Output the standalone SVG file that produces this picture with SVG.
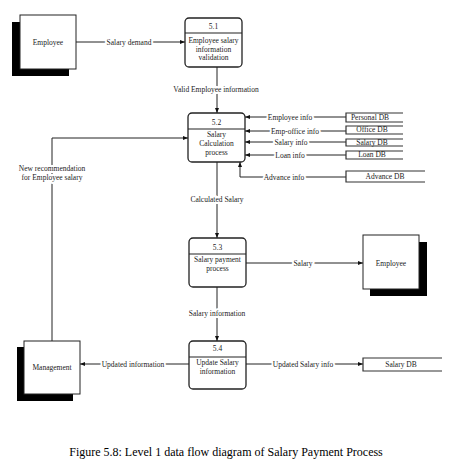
<svg xmlns="http://www.w3.org/2000/svg" width="455" height="472" viewBox="0 0 455 472">
<style>
text{font-family:"Liberation Serif","Times New Roman",serif;font-size:7.5px;fill:#222;text-anchor:middle}
.lbl{paint-order:stroke;stroke:#fff;stroke-width:4px}
.db{font-size:7.5px}
.proc{fill:#fff;stroke:#222;stroke-width:1.3}
.div{stroke:#222;stroke-width:1.1}
.ent{fill:#fff;stroke:#222;stroke-width:1}
.sh{fill:#000}
.ln{fill:none;stroke:#222;stroke-width:1}
.st{fill:none;stroke:#333;stroke-width:1.2}
.cap{font-size:12px;fill:#000}
</style>
<defs>
<marker id="ah" viewBox="0 0 10 10" refX="10" refY="5" markerWidth="5" markerHeight="5" orient="auto" markerUnits="userSpaceOnUse">
<path d="M0,1 L10,5 L0,9 Z" fill="#111"/>
</marker>
</defs>
<rect width="455" height="472" fill="#fff"/>

<g id="connectors">
<line class="ln" x1="76" y1="42" x2="185" y2="42" marker-end="url(#ah)"/>
<line class="ln" x1="217" y1="67" x2="217" y2="113" marker-end="url(#ah)"/>
<line class="ln" x1="346" y1="117" x2="245" y2="117" marker-end="url(#ah)"/>
<line class="ln" x1="346" y1="131" x2="245" y2="131" marker-end="url(#ah)"/>
<line class="ln" x1="346" y1="142" x2="245" y2="142" marker-end="url(#ah)"/>
<line class="ln" x1="346" y1="155" x2="245" y2="155" marker-end="url(#ah)"/>
<polyline class="ln" points="346,177 240,177 240,162" marker-end="url(#ah)"/>
<polyline class="ln" points="52,341 52,138 188,138" marker-end="url(#ah)"/>
<line class="ln" x1="217" y1="162" x2="217" y2="238" marker-end="url(#ah)"/>
<line class="ln" x1="246" y1="263" x2="363" y2="263" marker-end="url(#ah)"/>
<line class="ln" x1="217" y1="287" x2="217" y2="341" marker-end="url(#ah)"/>
<line class="ln" x1="189" y1="364" x2="80" y2="364" marker-end="url(#ah)"/>
<line class="ln" x1="246" y1="364" x2="363" y2="364" marker-end="url(#ah)"/>
<text class="lbl" x="129" y="44.5">Salary demand</text>
<text class="lbl" x="216" y="91.5">Valid Employee information</text>
<text class="lbl" x="290" y="119.5">Employee info</text>
<text class="lbl" x="295" y="133.5">Emp-office info</text>
<text class="lbl" x="291" y="144.5">Salary info</text>
<text class="lbl" x="290" y="157.5">Loan info</text>
<text class="lbl" x="284" y="179.5">Advance info</text>
<text class="lbl" x="52" y="171">New recommendation</text>
<text class="lbl" x="52" y="180">for Employee salary</text>
<text class="lbl" x="217" y="201.5">Calculated Salary</text>
<text class="lbl" x="303" y="265.5">Salary</text>
<text class="lbl" x="217" y="315.5">Salary information</text>
<text class="lbl" x="133" y="366.5">Updated information</text>
<text class="lbl" x="303" y="366.5">Updated Salary info</text>
</g>

<g id="employee-src">
<rect class="sh" x="12" y="22" width="57" height="54"/>
<rect class="ent" x="20" y="15" width="56" height="54"/>
<text x="48" y="44.5">Employee</text>
</g>

<g id="p51">
<rect class="proc" x="185" y="18" width="57" height="49" rx="4"/>
<line class="div" x1="185" y1="33" x2="242" y2="33"/>
<text x="213.5" y="29">5.1</text>
<text x="213.5" y="43">Employee salary</text>
<text x="213.5" y="51.5">information</text>
<text x="213.5" y="60">validation</text>
</g>

<g id="p52">
<rect class="proc" x="188" y="113" width="57" height="49" rx="4"/>
<line class="div" x1="188" y1="129" x2="245" y2="129"/>
<text x="216.5" y="124.5">5.2</text>
<text x="216.5" y="136.5">Salary</text>
<text x="216.5" y="145.5">Calculation</text>
<text x="216.5" y="154.5">process</text>
</g>

<g id="personal-db">
<polyline class="st" points="403,113 346,113 346,122 403,122"/>
<text class="db" x="370" y="119.5">Personal DB</text>
</g>
<g id="office-db">
<polyline class="st" points="403,126 346,126 346,134 403,134"/>
<text class="db" x="372" y="132">Office DB</text>
</g>
<g id="salary-db1">
<polyline class="st" points="403,139 346,139 346,146 403,146"/>
<text class="db" x="372" y="144.5">Salary DB</text>
</g>
<g id="loan-db">
<polyline class="st" points="403,151 346,151 346,159 403,159"/>
<text class="db" x="372" y="157">Loan DB</text>
</g>
<g id="advance-db">
<polyline class="st" points="425,171 346,171 346,182 425,182"/>
<text class="db" x="385" y="179">Advance DB</text>
</g>

<g id="p53">
<rect class="proc" x="189" y="238" width="57" height="49" rx="4"/>
<line class="div" x1="189" y1="254" x2="246" y2="254"/>
<text x="217.5" y="249.5">5.3</text>
<text x="217.5" y="261.5">Salary payment</text>
<text x="217.5" y="270.5">process</text>
</g>

<g id="employee-dst">
<rect class="sh" x="370" y="242" width="57" height="54"/>
<rect class="ent" x="363" y="235" width="56" height="54"/>
<text x="391" y="265.5">Employee</text>
</g>

<g id="p54">
<rect class="proc" x="189" y="341" width="57" height="48" rx="4"/>
<line class="div" x1="189" y1="357" x2="246" y2="357"/>
<text x="217.5" y="350.5">5.4</text>
<text x="217.5" y="364.5">Update Salary</text>
<text x="217.5" y="373.5">information</text>
</g>

<g id="management">
<rect class="sh" x="17" y="347" width="56" height="54"/>
<rect class="ent" x="24" y="341" width="56" height="53"/>
<text x="52" y="369.5">Management</text>
</g>

<g id="salary-db2">
<polyline class="st" points="442,358 363,358 363,371 442,371"/>
<text class="db" x="401" y="367">Salary DB</text>
</g>

<text class="cap" x="226" y="456">Figure 5.8: Level 1 data flow diagram of Salary Payment Process</text>
</svg>
